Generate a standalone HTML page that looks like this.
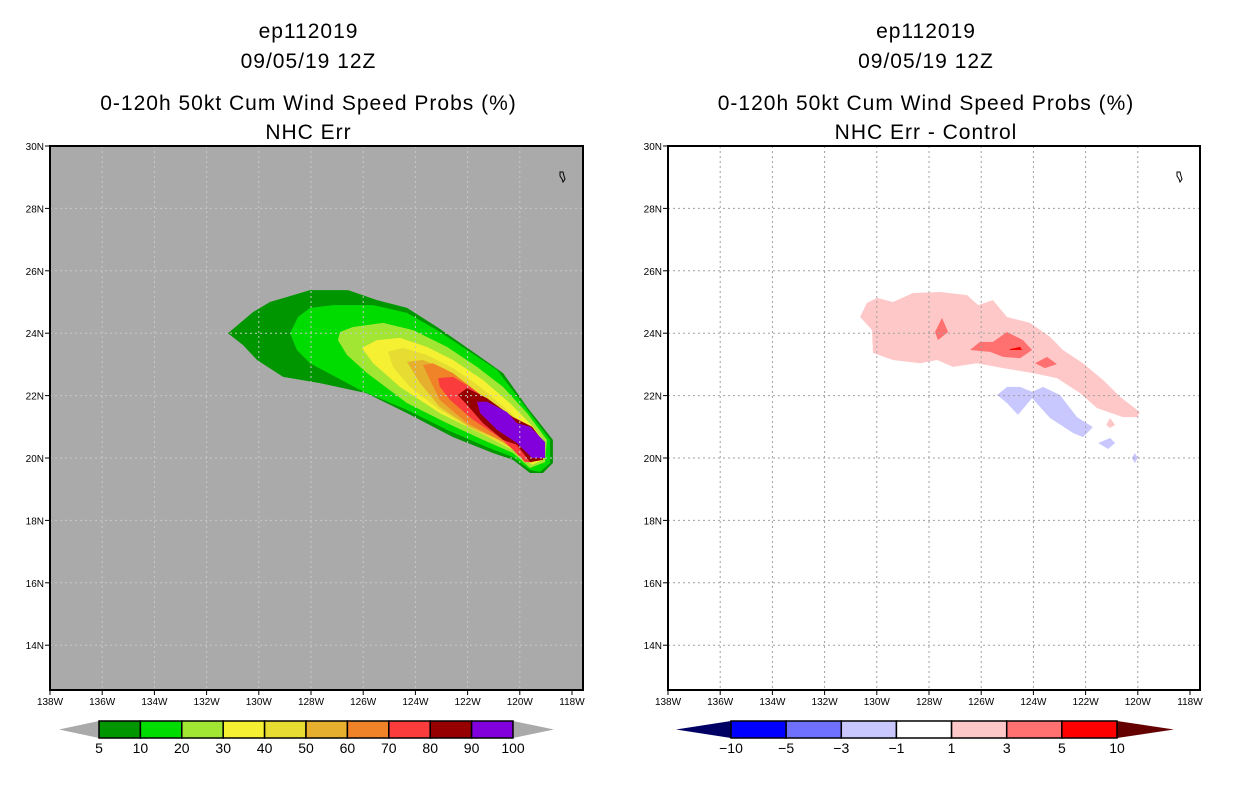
<!DOCTYPE html>
<html><head><meta charset="utf-8"><style>
body{margin:0;background:#fff;}
svg{display:block;font-family:"Liberation Sans",sans-serif;}
</style></head><body>
<svg id="fig" width="1236" height="800" viewBox="0 0 1236 800">
<rect width="1236" height="800" fill="#fff"/>
</svg>
<script>
// ---- data ----
const lonTicks=[138,136,134,132,130,128,126,124,122,120,118];
const latTicks=[30,28,26,24,22,20,18,16,14];
const probLevels=[5,10,20,30,40,50,60,70,80,90,100];
const probColors=["#009600","#00dc00","#a0e632","#f5f032","#e6dc32","#e6af2d","#f08228","#fa3c3c","#960000","#8200dc"];
const diffLevels=[-10,-5,-3,-1,1,3,5,10];
const diffColors=["#0000ff","#7070ff","#c8c8ff","#ffffff","#ffc8c8","#ff7070","#ff0000"];
const c05=[[131.18,24.0],[130.22,24.68],[129.57,25.0],[128.04,25.38],[126.58,25.38],[125.47,25.06],[124.32,24.81],[123.17,24.2],[121.79,23.4],[120.64,22.72],[119.72,21.63],[118.73,20.58],[118.73,19.84],[119.11,19.52],[119.61,19.52],[120.26,19.94],[121.03,20.16],[122.56,20.67],[124.32,21.44],[125.88,22.08],[127.66,22.4],[129.07,22.6],[130.07,23.14],[130.6,23.62]];
const c10=[[128.8,24.0],[128.5,24.52],[128.04,24.81],[127.16,24.9],[125.62,24.9],[124.32,24.65],[123.17,24.1],[122.02,23.46],[120.87,22.82],[119.99,21.86],[118.84,20.58],[118.84,19.84],[119.23,19.55],[119.61,19.62],[120.26,20.03],[121.26,20.35],[122.79,20.9],[124.32,21.54],[126.12,22.18],[128.04,23.04],[128.54,23.46]];
const c20=[[126.97,23.78],[126.89,24.04],[126.39,24.2],[125.24,24.33],[124.09,24.1],[122.79,23.56],[121.64,22.92],[120.64,22.28],[119.72,21.44],[118.96,20.58],[119.03,19.87],[119.61,19.68],[120.26,20.16],[121.41,20.58],[122.79,21.12],[124.32,21.76],[125.85,22.72],[126.62,23.3]];
const c30=[[126.05,23.53],[125.47,23.78],[124.59,23.85],[123.56,23.56],[122.56,23.14],[121.41,22.5],[120.38,21.76],[119.49,21.0],[119.03,20.48],[119.11,19.94],[119.53,19.78],[120.26,20.26],[121.52,20.8],[123.06,21.44],[124.59,22.28],[125.62,23.04]];
const c40=[[125.05,23.4],[124.48,23.53],[123.56,23.3],[122.56,22.88],[121.52,22.28],[120.49,21.54],[119.61,20.9],[119.15,20.35],[119.23,19.94],[119.61,19.84],[120.38,20.35],[121.79,20.9],[123.06,21.54],[124.21,22.28],[124.86,22.92]];
const c50=[[124.32,23.08],[123.71,23.14],[122.79,22.82],[121.79,22.18],[120.76,21.47],[119.72,20.8],[119.3,20.32],[119.34,19.94],[119.69,19.87],[120.49,20.48],[121.91,20.99],[123.06,21.63],[123.82,22.4]];
const c60=[[123.71,22.98],[123.33,23.04],[122.56,22.72],[121.64,22.12],[120.64,21.44],[119.72,20.74],[119.34,20.26],[119.42,19.94],[119.72,19.94],[120.64,20.51],[122.02,21.12],[123.06,21.86],[123.44,22.5]];
const c70=[[123.13,22.56],[122.56,22.6],[121.91,22.28],[120.87,21.63],[119.88,21.0],[119.42,20.58],[119.34,20.03],[119.53,19.87],[119.8,19.87],[120.64,20.58],[121.79,21.22],[122.67,21.86],[123.06,22.28]];
const c80=[[122.37,22.02],[122.02,22.24],[121.26,21.92],[120.26,21.31],[119.53,21.0],[119.15,20.58],[119.11,19.94],[119.61,19.87],[120.11,20.42],[120.64,20.58],[121.41,21.12],[122.02,21.7]];
const c90=[[121.64,21.8],[121.26,21.8],[120.49,21.47],[120.11,21.12],[119.61,21.0],[119.03,20.51],[119.03,20.0],[119.53,20.0],[120.11,20.48],[120.87,20.9],[121.52,21.44]];
const probContours=[c05,c10,c20,c30,c40,c50,c60,c70,c80,c90];
const dPink=[[130.64,24.52],[130.38,24.97],[129.99,25.13],[129.38,25.0],[128.61,25.29],[127.58,25.32],[126.54,25.22],[126.12,24.9],[125.55,25.06],[125.01,24.52],[124.13,24.33],[123.36,23.88],[122.87,23.46],[122.1,23.04],[121.33,22.5],[120.68,21.96],[119.92,21.47],[120.03,21.31],[120.57,21.31],[121.56,21.6],[122.21,22.08],[123.1,22.56],[124.02,22.72],[125.16,22.88],[126.16,23.04],[127.08,22.92],[127.69,23.14],[128.34,23.04],[129.38,23.14],[130.15,23.37],[130.18,24.1]];
const dPink2=[[121.06,21.28],[120.87,21.06],[121.06,20.96],[121.21,21.06]];
const dSalA=[[127.5,24.49],[127.27,24.04],[127.66,23.78],[127.77,24.04]];
const dSalB=[[126.43,23.46],[126.05,23.72],[125.55,23.72],[125.01,24.04],[124.4,23.78],[124.05,23.46],[124.51,23.2],[125.16,23.24],[125.66,23.4]];
const dSalC=[[123.94,23.04],[123.48,23.24],[123.1,23.01],[123.56,22.88]];
const dRed=[[124.9,23.49],[124.51,23.56],[124.44,23.46],[124.9,23.46]];
const dBlue1=[[125.39,22.02],[125.01,22.28],[124.51,22.28],[124.05,22.12],[123.63,22.28],[122.98,22.02],[122.33,21.31],[121.72,20.99],[122.1,20.67],[122.48,20.8],[123.36,21.28],[124.05,21.92],[124.59,21.38],[125.01,21.76]];
const dBlue2=[[121.52,20.48],[121.06,20.64],[120.87,20.48],[121.14,20.29]];
const dBlue3=[[120.11,20.16],[120.0,20.0],[120.11,19.84],[120.23,20.0]];
const diffShapes=[[dPink,"#ffc8c8"],[dPink2,"#ffc8c8"],[dSalA,"#ff7070"],[dSalB,"#ff7070"],[dSalC,"#ff7070"],[dRed,"#ff0000"],[dBlue1,"#c8c8ff"],[dBlue2,"#c8c8ff"],[dBlue3,"#c8c8ff"]];
const titles1=["ep112019","09/05/19 12Z","0-120h 50kt Cum Wind Speed Probs (%)","NHC Err"];
const titles2=["ep112019","09/05/19 12Z","0-120h 50kt Cum Wind Speed Probs (%)","NHC Err - Control"];

// ---- drawing ----
const NS="http://www.w3.org/2000/svg";
const svg=document.getElementById('fig');
function mk(tag,attrs,parent){const e=document.createElementNS(NS,tag);for(const k in attrs)e.setAttribute(k,attrs[k]);(parent||svg).appendChild(e);return e;}
const PX=26.1, PY=31.2, TOP=146, BOT=690;
function xS(ox,lon){return ox+(138-lon)*PX;}
function yS(lat){return TOP+(30-lat)*PY;}
function pts(ox,arr){return arr.map(p=>xS(ox,p[0]).toFixed(1)+","+yS(p[1]).toFixed(1)).join(" ");}

function panel(ox,right,bg,titles,name){
  const g=mk('g',{});
  
  
  const cx=(ox+right)/2-8;
  const ty=[38,68,110,139];
  titles.forEach((t,i)=>{const e=mk('text',{x:cx,y:ty[i],'text-anchor':'middle','font-size':'21','letter-spacing':'1'},g);e.textContent=t;
    
    });
  const bgR=mk('rect',{x:ox,y:TOP,width:right-ox,height:BOT-TOP,fill:bg},g);
  
  
  return g;
}
function grid(g,ox,right,col){
  lonTicks.slice(1,-1).forEach(l=>{const x=xS(ox,l);const e=mk('line',{x1:x,y1:TOP,x2:x,y2:BOT,stroke:col,'stroke-width':1,'stroke-dasharray':'2,3'},g);
    
    });
  latTicks.slice(1).forEach(l=>{const y=yS(l);const e=mk('line',{x1:ox,y1:y,x2:right,y2:y,stroke:col,'stroke-width':1,'stroke-dasharray':'2,3'},g);
    
    });
}
function frame(g,ox,right){
  const f=mk('rect',{x:ox,y:TOP,width:right-ox,height:BOT-TOP,fill:'none',stroke:'#000','stroke-width':2},g);
  
  
  lonTicks.forEach(l=>{const x=xS(ox,l);mk('line',{x1:x,y1:BOT,x2:x,y2:BOT+5,stroke:'#000','stroke-width':1},g);
    const t=mk('text',{x:x,y:BOT+15,'text-anchor':'middle','font-size':'10'},g);t.textContent=l+'W';
    
    });
  latTicks.forEach(l=>{const y=yS(l);mk('line',{x1:ox-5,y1:y,x2:ox,y2:y,stroke:'#000','stroke-width':1},g);
    const t=mk('text',{x:ox-6,y:y+4,'text-anchor':'end','font-size':'10'},g);t.textContent=l+'N';
    
    });
  const isl=mk('path',{d:`M${right-23},${172} l3,0 l1,4 l1,3 l-2,3 l-1,-3 l-2,-3 z`,fill:'none',stroke:'#000','stroke-width':1},g);
  
  
}

// left panel
const g1=panel(50,583,'#aaaaaa',titles1,'left-panel-probs');
probContours.forEach((c,i)=>{const p=mk('polygon',{points:pts(50,c),fill:probColors[i]},g1);
  
  });
grid(g1,50,583,'#c8c8c8');
frame(g1,50,583);

// right panel
const g2=panel(668,1200,'#ffffff',titles2,'right-panel-diff');
diffShapes.forEach((s,i)=>{const p=mk('polygon',{points:pts(668,s[0]),fill:s[1]},g2);
  
  });
grid(g2,668,1200,'#a0a0a0');
frame(g2,668,1200);

// colorbars
function colorbar(x0,x1,tipL,tipR,levels,colors,lcol,rcol,name){
  const g=mk('g',{});
  
  
  const y0=721,y1=738,ym=(y0+y1)/2,n=colors.length,w=(x1-x0)/n;
  mk('polygon',{points:`${tipL},${ym} ${x0},${y0} ${x0},${y1}`,fill:lcol},g);
  mk('polygon',{points:`${tipR},${ym} ${x1},${y0} ${x1},${y1}`,fill:rcol},g);
  colors.forEach((c,i)=>{const r=mk('rect',{x:x0+i*w,y:y0,width:w,height:y1-y0,fill:c,stroke:'#000','stroke-width':1.5},g);
    
    });
  levels.forEach((l,i)=>{const t=mk('text',{x:x0+i*w,y:753,'text-anchor':'middle','font-size':'14'},g);t.textContent=(l<0?'\u2212'+(-l):l);
    
    });
}
colorbar(99,513,59,554,probLevels,probColors,'#aaaaaa','#aaaaaa','prob-colorbar');
colorbar(731,1117,676,1174,diffLevels,diffColors,'#000064','#640000','diff-colorbar');
</script>
</body></html>
